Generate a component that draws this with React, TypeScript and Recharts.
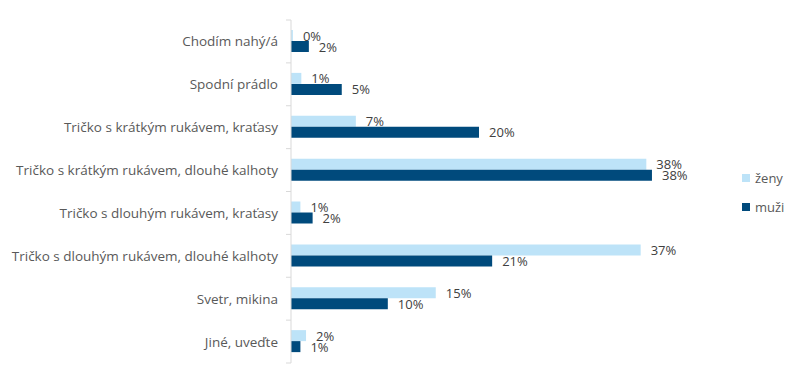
import React from 'react';
import { BarChart, Bar, XAxis, YAxis, LabelList } from 'recharts';

const categories = [
  'Chodím nahý/á',
  'Spodní prádlo',
  'Tričko s krátkým rukávem, kraťasy',
  'Tričko s krátkým rukávem, dlouhé kalhoty',
  'Tričko s dlouhým rukávem, kraťasy',
  'Tričko s dlouhým rukávem, dlouhé kalhoty',
  'Svetr, mikina',
  'Jiné, uveďte',
];
const zeny = [0.2, 1.1, 6.9, 37.8, 1.0, 37.2, 15.4, 1.6];
const muzi = [1.9, 5.4, 20.0, 38.4, 2.3, 21.4, 10.3, 1.0];
const seriesNames = ['ženy', 'muži'];
const seriesColors = ['#bde3f8', '#004a7c'];

const data = categories.map((name, i) => ({ name, zeny: zeny[i], muzi: muzi[i] }));

const W = 800;
const H = 382;
const TOP = 20;
const BOTTOM = 19;
const AXIS_X = 291;
const BAND = (H - TOP - BOTTOM) / categories.length;
const FONT = '"Open Sans", sans-serif';

const CatTick = (props: any) => {
  const { y, payload } = props;
  const last = payload.index === categories.length - 1;
  return (
    <g>
      <text x={AXIS_X - 13} y={y} textAnchor="end" dominantBaseline="central" fill="#595959" fontSize={13.5} fontFamily={FONT}>
        {payload.value}
      </text>
      <line x1={AXIS_X - 5} x2={AXIS_X} y1={y - BAND / 2} y2={y - BAND / 2} stroke="#d9d9d9" />
      {last && <line x1={AXIS_X - 5} x2={AXIS_X} y1={y + BAND / 2} y2={y + BAND / 2} stroke="#d9d9d9" />}
    </g>
  );
};

const ValueLabel = (props: any) => {
  const { x, y, width, height, value } = props;
  return (
    <text x={x + width + 10} y={y + height / 2} dominantBaseline="central" fill="#404040" fontSize={13} fontFamily={FONT}>
      {Math.round(value)}%
    </text>
  );
};

export default function App() {
  return (
    <div style={{ position: 'absolute', left: 0, top: 0, width: W, height: H, background: '#fff' }}>
      <BarChart
        width={W}
        height={H}
        data={data}
        layout="vertical"
        margin={{ top: TOP, right: 86, bottom: BOTTOM, left: 0 }}
        barGap={0}
        barSize={11}
      >
        <XAxis type="number" domain={[0, 45]} allowDataOverflow hide />
        <YAxis
          type="category"
          dataKey="name"
          width={AXIS_X}
          axisLine={{ stroke: '#d9d9d9' }}
          tickLine={false}
          tick={<CatTick />}
          interval={0}
        />
        <Bar dataKey="zeny" name={seriesNames[0]} fill={seriesColors[0]} isAnimationActive={false}>
          <LabelList dataKey="zeny" content={<ValueLabel />} />
        </Bar>
        <Bar dataKey="muzi" name={seriesNames[1]} fill={seriesColors[1]} isAnimationActive={false}>
          <LabelList dataKey="muzi" content={<ValueLabel />} />
        </Bar>
      </BarChart>
      <div style={{ position: 'absolute', left: 742, top: 163, fontFamily: FONT, fontSize: 13, color: '#595959' }}>
        {seriesNames.map((label, i) => (
          <div key={label} style={{ display: 'flex', alignItems: 'center', height: 29 }}>
            <span style={{ width: 8, height: 8, background: seriesColors[i], marginRight: 5, display: 'inline-block' }} />
            {label}
          </div>
        ))}
      </div>
    </div>
  );
}
